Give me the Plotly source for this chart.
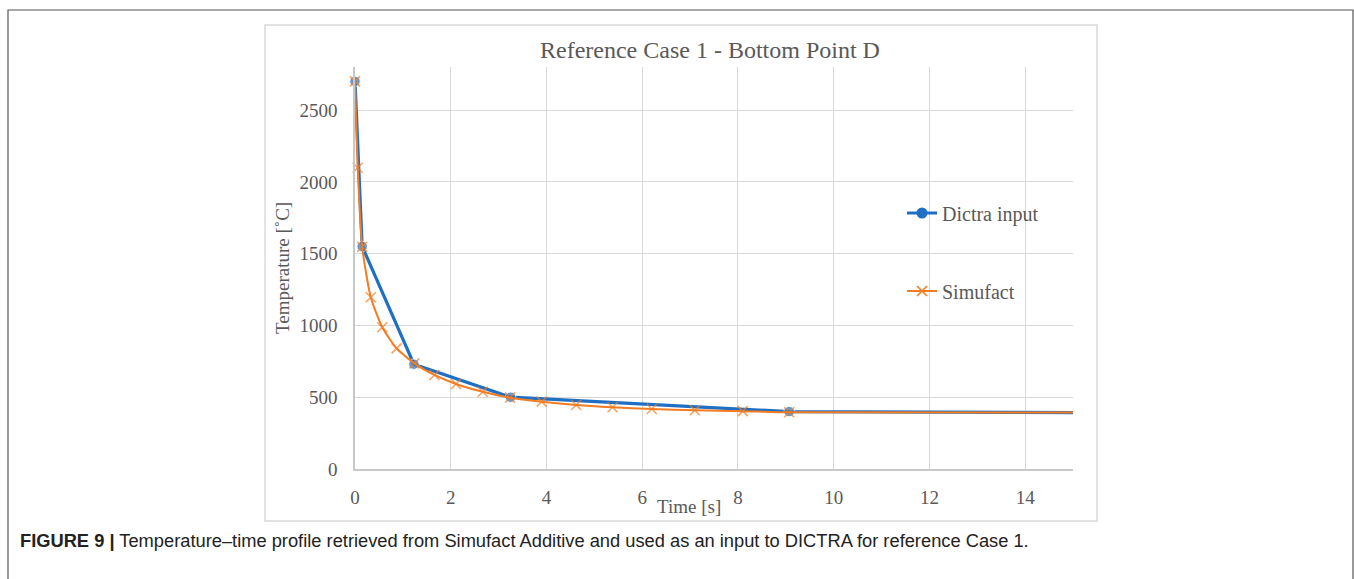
import plotly.graph_objects as go

# Data
dictra_t = [0, 0.15, 1.23, 3.25, 9.07, 16]
dictra_T = [2700, 1550, 730, 500, 400, 392]

simu_t = [0, 0.056, 0.15, 0.33, 0.57, 0.87, 1.24, 1.66, 2.11, 2.67, 3.24, 3.9,
          4.62, 5.38, 6.2, 7.1, 8.1, 9.07, 16]
simu_T = [2700, 2098, 1548, 1196, 987, 840, 736, 655, 592, 538, 497, 469,
          446, 430, 418, 409, 403, 395, 393]

x_ticks = [0, 2, 4, 6, 8, 10, 12, 14]
y_ticks = [0, 500, 1000, 1500, 2000, 2500]

BLUE = "#1F70C4"
ORANGE = "#F47C22"
GRID = "#D9D9D9"
TXT = "#595959"
SERIF = "Liberation Serif, Times New Roman, serif"

W, H = 1354, 579
L, R, T, B = 355, 1073, 67, 469  # plot area in px


def px(x):
    return (x - L) / (R - L)


def py(y):
    return (B - y) / (B - T)


def sizes(n, s):
    # hide the marker of the last (off-range) point
    return [s] * (n - 1) + [0]


blue_line = dict(color=BLUE, width=3.2)
orange_line = dict(color=ORANGE, width=2, shape="spline", smoothing=0.6)
x_mark = dict(symbol="x-thin-open", color=ORANGE, line=dict(color=ORANGE, width=1.6))

fig = go.Figure()
fig.add_trace(go.Scatter(
    x=dictra_t, y=dictra_T, name="Dictra input", mode="lines+markers",
    line=blue_line,
    marker=dict(symbol="circle", size=sizes(len(dictra_t), 10.5), color=BLUE),
    cliponaxis=False, showlegend=False,
))
fig.add_trace(go.Scatter(
    x=simu_t, y=simu_T, name="Simufact", mode="lines+markers",
    line=orange_line,
    marker=dict(size=sizes(len(simu_t), 10), **x_mark),
    cliponaxis=False, showlegend=False,
))
# legend entries
fig.add_trace(go.Scatter(
    x=[None], y=[None], name="Dictra input", mode="lines+markers",
    line=blue_line, marker=dict(symbol="circle", size=11, color=BLUE), legend="legend",
))
fig.add_trace(go.Scatter(
    x=[None], y=[None], name="Simufact", mode="lines+markers",
    line=dict(color=ORANGE, width=2), marker=dict(size=10, **x_mark), legend="legend2",
))

shapes = [
    # outer figure frame
    dict(type="rect", xref="paper", yref="paper",
         x0=px(8), x1=px(1353), y0=py(620), y1=py(10),
         line=dict(color="#555555", width=1.2), fillcolor="rgba(0,0,0,0)", layer="below"),
    # chart box
    dict(type="rect", xref="paper", yref="paper",
         x0=px(265), x1=px(1097), y0=py(521), y1=py(25),
         line=dict(color="#D9D9D9", width=1.5), fillcolor="rgba(0,0,0,0)", layer="below"),
]

annotations = [
    dict(text="Reference Case 1 - Bottom Point D", xref="paper", yref="paper",
         x=px(710), y=py(50), xanchor="center", yanchor="middle", showarrow=False,
         font=dict(family=SERIF, size=24, color=TXT)),
    dict(text="Time [s]", xref="paper", yref="paper",
         x=px(689), y=py(507), xanchor="center", yanchor="middle", showarrow=False,
         font=dict(family=SERIF, size=19, color=TXT)),
    dict(text="Temperature [˚C]", xref="paper", yref="paper", textangle=-90,
         x=px(282), y=py(268), xanchor="center", yanchor="middle", showarrow=False,
         font=dict(family=SERIF, size=19, color=TXT)),
    dict(text="<b>FIGURE 9 |</b> Temperature–time profile retrieved from Simufact Additive "
              "and used as an input to DICTRA for reference Case 1.",
         xref="paper", yref="paper", x=px(18), y=py(540), xanchor="left", yanchor="middle",
         showarrow=False, font=dict(family="Liberation Sans, Arial, sans-serif", size=18.3,
                                    color="#222222")),
]

fig.update_layout(
    width=W, height=H,
    margin=dict(l=L, r=W - R, t=T, b=H - B, pad=0),
    paper_bgcolor="white", plot_bgcolor="white",
    showlegend=True,
    legend=dict(x=px(902), y=py(213), xanchor="left", yanchor="middle",
                font=dict(family=SERIF, size=20, color=TXT), bgcolor="rgba(0,0,0,0)"),
    legend2=dict(x=px(902), y=py(291), xanchor="left", yanchor="middle",
                 font=dict(family=SERIF, size=20, color=TXT), bgcolor="rgba(0,0,0,0)"),
    shapes=shapes,
    annotations=annotations,
    xaxis=dict(range=[0, 15], tickvals=x_ticks, showgrid=True, gridcolor=GRID, gridwidth=1.3,
               zeroline=False, showline=True, linecolor="#C8C8C8", linewidth=1.5,
               ticks="outside", ticklen=10, tickcolor="rgba(0,0,0,0)",
               tickfont=dict(family=SERIF, size=19, color=TXT)),
    yaxis=dict(range=[0, 2800], tickvals=y_ticks, showgrid=True, gridcolor=GRID, gridwidth=1.3,
               zeroline=False, showline=True, linecolor="#C8C8C8", linewidth=1.5,
               ticks="outside", ticklen=12, tickcolor="rgba(0,0,0,0)",
               tickfont=dict(family=SERIF, size=19, color=TXT)),
)

fig.write_html("out.html")
